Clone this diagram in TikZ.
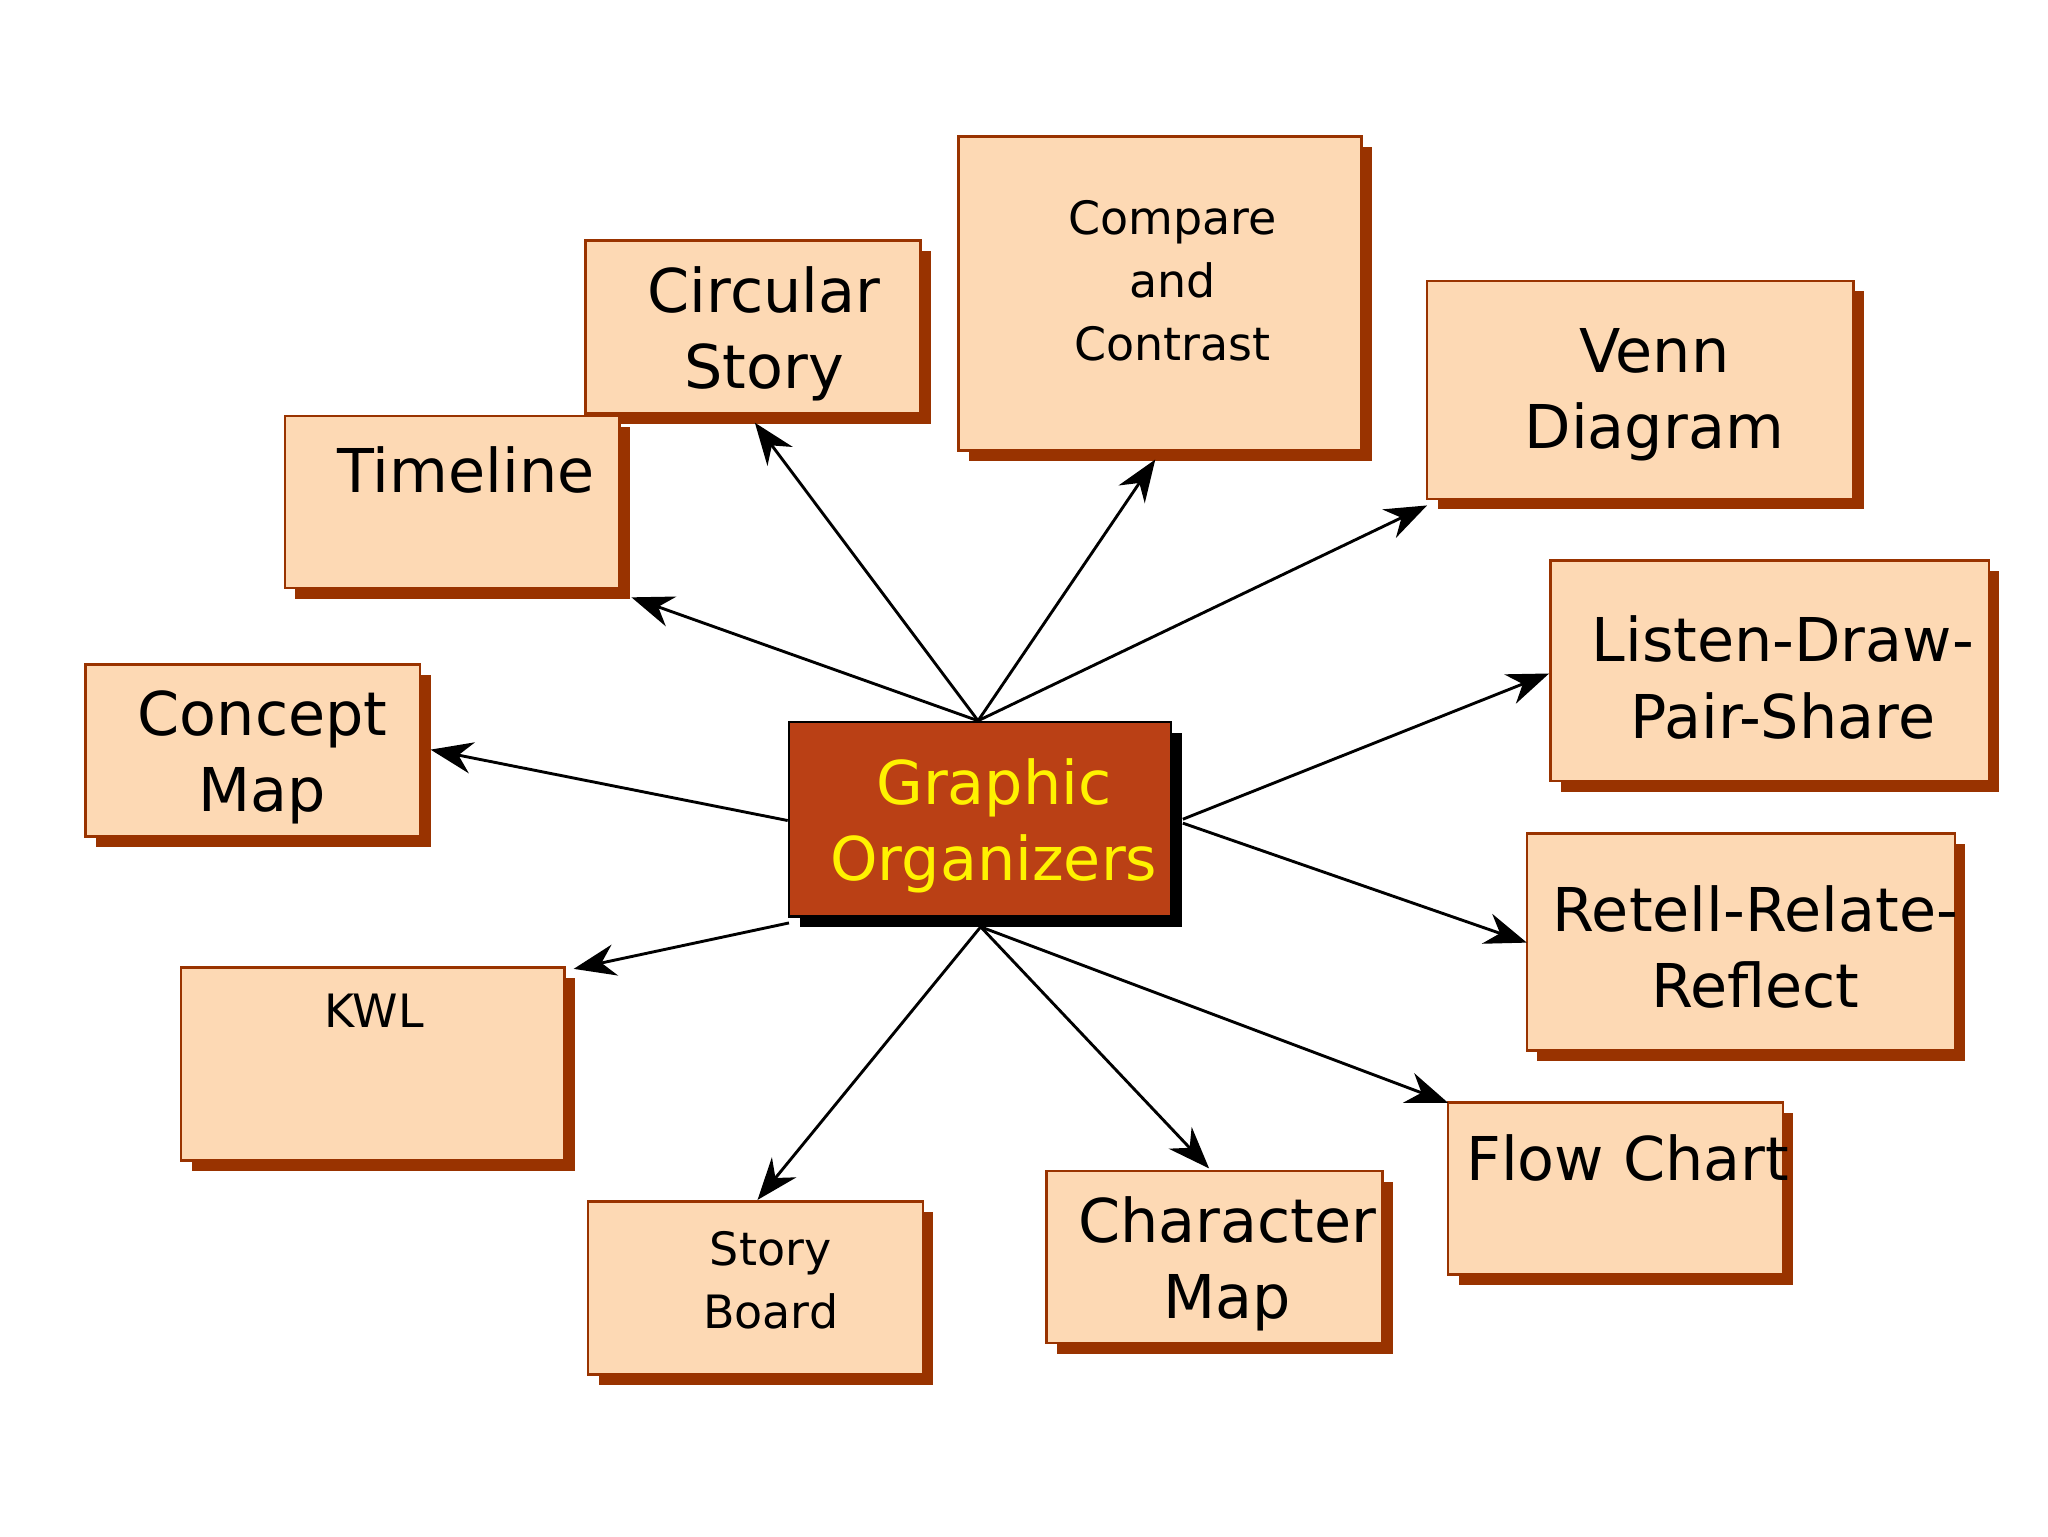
\documentclass[tikz,border=0pt]{standalone}
\usepackage{fontspec}
\setmainfont{DejaVu Sans}
\usetikzlibrary{shadows,arrows.meta}
\definecolor{boxfill}{HTML}{FDD9B4}
\definecolor{rust}{HTML}{993300}
\definecolor{center}{HTML}{BA4015}
\begin{document}
\begin{tikzpicture}[x=1pt,y=-1pt,
  box/.style={draw=rust,line width=2pt,fill=boxfill,inner sep=0,
    copy shadow={shadow xshift=8pt,shadow yshift=-8pt,fill=rust,draw=none}},
  big/.style={font=\fontsize{46}{58}\selectfont,align=center,inner sep=0},
  small/.style={font=\fontsize{35}{48}\selectfont,align=center,inner sep=0},
  arr/.style={line width=2.2pt,-{Stealth[length=32pt,width=24pt]}}]
\useasboundingbox (0,0) rectangle (1560,1170);
\newcommand{\bx}[5]{\node[box,minimum width=#4-#2,minimum height=#5-#3] (#1) at ({(#2+#4)/2},{(#3+#5)/2}) {};}
\bx{circ}{446}{183}{701}{315}
\bx{comp}{730}{104}{1037}{343}
\bx{venn}{1087}{214}{1412}{380}
\bx{time}{217}{317}{472}{448}
\bx{list}{1181}{427}{1515}{595}
\bx{conc}{65}{506}{320}{637}
\bx{rete}{1163}{635}{1489}{800}
\bx{kwl}{138}{737}{430}{884}
\bx{flow}{1103}{840}{1358}{971}
\bx{stor}{448}{915}{703}{1047}
\bx{char}{797}{892}{1053}{1023}
\node[draw=black,line width=2pt,fill=center,minimum width=291,minimum height=148,inner sep=0,
  copy shadow={shadow xshift=8pt,shadow yshift=-8pt,fill=black,draw=none}] (go) at (746.5,624) {};
\node[big,text=yellow] (got) at (757,629) {Graphic\\Organizers};
\node[big] (circt) at (582,254) {Circular\\Story};
\node[small] (compt) at (893,214) {Compare\\and\\Contrast};
\node[big] (vennt) at (1260,301) {Venn\\Diagram};
\node[big] (timet) at (355,358) {Timeline};
\node[big] (listt) at (1358,516) {Listen-Draw-\\Pair-Share};
\node[big] (conct) at (200,577) {Concept\\Map};
\node[big] (retet) at (1337,721) {Retell-Relate-\\Reflect};
\node[small] (kwlt) at (285,770) {KWL};
\node[big] (flowt) at (1240,882) {Flow Chart};
\node[small] (stort) at (587,975) {Story\\Board};
\node[big] (chart) at (935,963) {Character\\Map};
\coordinate (t) at (745,549);
\coordinate (l1) at (600,625);
\coordinate (l2) at (601,703);
\coordinate (r1) at (901,624);
\coordinate (r2) at (901,627);
\coordinate (b) at (747,706);
\coordinate (ecirc) at (575,322);
\coordinate (ecomp) at (880,350);
\coordinate (evenn) at (1087,385);
\coordinate (etime) at (481,455);
\coordinate (econc) at (328,571);
\coordinate (ekwl) at (437,738);
\coordinate (elist) at (1180,513);
\coordinate (erete) at (1163,718);
\coordinate (estor) at (577,914);
\coordinate (echar) at (921,890);
\coordinate (eflow) at (1103,840);
\draw[arr] (t) -- (ecirc);
\draw[arr] (t) -- (ecomp);
\draw[arr] (t) -- (evenn);
\draw[arr] (t) -- (etime);
\draw[arr] (l1) -- (econc);
\draw[arr] (l2) -- (ekwl);
\draw[arr] (r1) -- (elist);
\draw[arr] (r2) -- (erete);
\draw[arr] (b) -- (estor);
\draw[arr] (b) -- (echar);
\draw[arr] (b) -- (eflow);
\end{tikzpicture}
\end{document}
